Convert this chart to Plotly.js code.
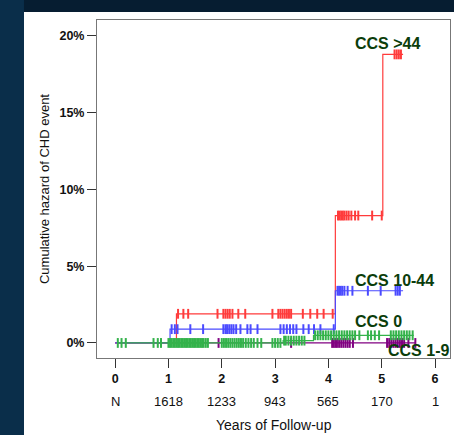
<!DOCTYPE html>
<html>
<head>
<meta charset="utf-8">
<script src="https://cdn.plot.ly/plotly-3.0.1.min.js"></script>
<style>html,body{margin:0;padding:0;background:#0a2e4a;}#chart{width:454px;height:435px;}</style>
</head>
<body>
<div id="chart"></div>
<script>
// ---- Data ----
const yearTicks = [0, 1, 2, 3, 4, 5, 6];
const yearLabels = ["0", "1", "2", "3", "4", "5", "6"];
const atRiskLabels = ["N", "1618", "1233", "943", "565", "170", "1"];
const yTicks = [0, 5, 10, 15, 20];
const yLabels = ["0%", "5%", "10%", "15%", "20%"];

const seriesNames = ["CCS >44", "CCS 10-44", "CCS 0", "CCS 1-9"];

// step curves (time in years, cumulative hazard in %)
const redX = [0, 1.15, 4.13, 5.02, 5.4];
const redY = [0, 1.9, 8.3, 18.8, 18.8];
const blueX = [0, 1.03, 4.13, 5.4];
const blueY = [0, 0.9, 3.4, 3.4];
const greenX = [0.05, 3.15, 3.72, 5.6];
const greenY = [0, 0.15, 0.5, 0.5];
const purpleX = [0, 5.64];
const purpleY = [0, 0];

// censoring times
const redCensor = [1.18,1.28,1.37,1.92,2.03,2.07,2.11,2.15,2.2,2.31,2.44,2.95,3.06,3.1,3.14,3.18,3.22,3.26,3.3,3.52,3.66,3.79,3.91,4.08,
  4.18,4.21,4.24,4.27,4.3,4.34,4.38,4.43,4.5,4.56,4.82,5.0,
  5.24,5.28,5.32,5.36];
const blueCensor = [1.06,1.12,1.17,1.41,1.65,2.03,2.07,2.1,2.14,2.18,2.22,2.27,2.35,2.48,2.54,2.67,3.1,3.16,3.22,3.28,3.34,3.4,3.53,3.63,3.73,3.85,4.1,
  4.17,4.2,4.23,4.26,4.3,4.36,4.45,4.74,4.98,5.26,5.3,5.34];
const greenCensor = [0.05,0.12,0.2,0.72,0.8,0.86,
  1.0,1.03,1.06,1.09,1.12,1.15,1.18,1.21,1.24,1.27,1.3,1.33,1.36,1.39,1.42,1.45,1.48,1.51,1.54,1.57,1.6,1.63,1.66,1.7,1.74,
  2.0,2.04,2.08,2.12,2.16,2.2,2.24,2.28,2.32,2.36,2.4,2.45,2.5,2.55,2.6,2.67,2.74,
  2.95,3.0,3.05,3.1,3.17,3.2,3.25,3.3,3.35,3.4,3.45,3.5,3.55,
  3.75,3.8,3.85,3.9,3.95,4.0,4.05,4.1,4.15,4.2,4.25,4.3,4.35,4.4,4.45,4.5,4.58,4.74,4.8,4.87,4.95,
  5.17,5.22,5.27,5.32,5.37,5.42,5.47,5.52,5.58];
const purpleCensor = [1.94,3.3,4.07,4.1,4.13,4.16,4.2,4.24,4.28,4.32,4.36,4.4,4.46,
  5.1,5.14,5.18,5.22,5.26,5.3,5.34,5.38,5.42,5.5,5.63];

// ---- helpers ----
function stepValue(xs, ys, t) {
  let v = ys[0];
  for (let i = 0; i < xs.length; i++) { if (xs[i] <= t) v = ys[i]; }
  return v;
}
function curve(xs, ys, color) {
  return {x: xs, y: ys, type: 'scatter', mode: 'lines', line: {shape: 'hv', color: color, width: 1.2},
          hoverinfo: 'skip', showlegend: false};
}
function censor(xs, ys, times, color) {
  return {x: times, y: times.map(t => stepValue(xs, ys, t)), type: 'scatter', mode: 'markers',
          marker: {symbol: 'line-ns-open', size: 7, color: color, line: {color: color, width: 2}},
          hoverinfo: 'skip', showlegend: false};
}

const cRed = '#ff3b3b', cBlue = '#4a4aff', cGreen = '#33b24a', cPurple = '#800080';

const traces = [
  curve(purpleX, purpleY, cPurple), censor(purpleX, purpleY, purpleCensor, cPurple),
  curve(redX, redY, cRed), censor(redX, redY, redCensor, cRed),
  curve(blueX, blueY, cBlue), censor(blueX, blueY, blueCensor, cBlue),
  curve(greenX, greenY, cGreen), censor(greenX, greenY, greenCensor, cGreen)
];

const FONT = 'Arial, "Liberation Sans", sans-serif';
const labelFont = {family: FONT, size: 16, color: '#0b3d0b', weight: 'bold'};

const annotations = [];
atRiskLabels.forEach((t, i) => annotations.push({
  x: yearTicks[i], y: -0.130, xref: 'x', yref: 'paper', text: t, showarrow: false,
  xanchor: 'center', yanchor: 'middle', font: {family: FONT, size: 13, color: '#111'}
}));
annotations.push({x: 0.5, y: -0.198, xref: 'paper', yref: 'paper', text: 'Years of Follow-up', showarrow: false,
  xanchor: 'center', yanchor: 'middle', font: {family: FONT, size: 14, color: '#111'}});
annotations.push({x: -0.150, y: 0.5, xref: 'paper', yref: 'paper', text: 'Cumulative hazard of CHD event', showarrow: false,
  textangle: -90, xanchor: 'center', yanchor: 'middle', font: {family: FONT, size: 13, color: '#111'}});
const labelPos = [[5.1, 19.48], [5.23, 4.1], [4.93, 1.43], [5.68, -0.52]];
seriesNames.forEach((n, i) => annotations.push({
  x: labelPos[i][0], y: labelPos[i][1], xref: 'x', yref: 'y', text: n, showarrow: false,
  xanchor: 'center', yanchor: 'middle', font: labelFont
}));

const layout = {
  width: 454, height: 435,
  margin: {l: 97, r: 4, t: 20, b: 77, pad: 0},
  paper_bgcolor: '#0a2e4a', plot_bgcolor: '#ffffff',
  showlegend: false,
  font: {family: FONT},
  xaxis: {range: [-0.34, 6.28], tickvals: yearTicks, ticktext: yearLabels, ticks: 'outside', ticklen: 9,
          tickcolor: '#333', tickwidth: 1, showgrid: false, zeroline: false, showline: true, mirror: true,
          linecolor: '#777', linewidth: 1, tickfont: {family: FONT, size: 12.5, color: '#111', weight: 'bold'},
          fixedrange: true},
  yaxis: {range: [-0.98, 21.04], tickvals: yTicks, ticktext: yLabels, ticks: 'outside', ticklen: 9,
          tickcolor: '#333', tickwidth: 1, showgrid: false, zeroline: false, showline: true, mirror: true,
          linecolor: '#777', linewidth: 1, tickfont: {family: FONT, size: 12.5, color: '#111', weight: 'bold'},
          fixedrange: true},
  shapes: [
    {type: 'rect', xref: 'paper', yref: 'paper', x0: -0.2068, x1: 1.02, y0: 1.0237, y1: 1.1, layer: 'below',
     fillcolor: '#061d31', line: {width: 0}},
    {type: 'rect', xref: 'paper', yref: 'paper', x0: -0.2068, x1: 1.02, y0: -0.24, y1: 1.0237, layer: 'below',
     fillcolor: '#ffffff', line: {width: 0}}
  ],
  annotations: annotations
};

Plotly.newPlot('chart', traces, layout, {displayModeBar: false, staticPlot: true});
</script>
</body>
</html>
